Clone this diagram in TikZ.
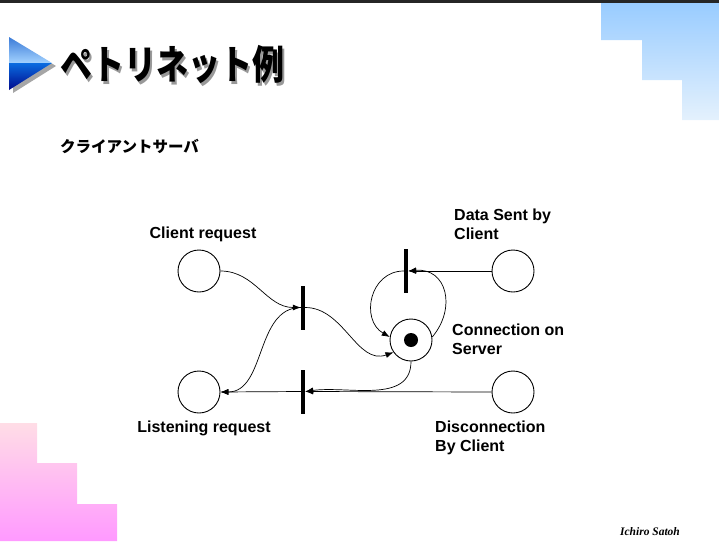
\documentclass[tikz,border=0pt]{standalone}
\usepackage{fontspec}
\setmainfont{Liberation Sans}
\newfontfamily\jpfont{Noto Sans CJK JP}
\newfontfamily\sigfont{Liberation Serif}
\usetikzlibrary{arrows.meta,calc}

\definecolor{stairblue}{HTML}{99CCFF}
\definecolor{stairpale}{HTML}{E4F1FD}
\definecolor{stairpink}{HTML}{FFDDE6}
\definecolor{stairmagenta}{HTML}{FF99FF}
\definecolor{tritop}{HTML}{3B7BD8}
\definecolor{trimid}{HTML}{A3D2FF}
\definecolor{trilow}{HTML}{0A6CE0}
\definecolor{tribottom}{HTML}{00088C}

\newcommand{\shadowtext}[1]{{\color{black!40}\rlap{\hspace{2.5pt}\raisebox{-2.5pt}{#1}}}#1}

\tikzset{
    place/.style={draw,circle,minimum size=42pt,inner sep=0pt,line width=0.9pt},
    trans/.style={fill=black,minimum width=4pt,minimum height=44pt,inner sep=0pt},
    arc/.style={-{Latex[length=8pt,width=6pt]},line width=0.7pt},
    lbl/.style={font=\bfseries\fontsize{16}{19}\selectfont,align=left,inner sep=0pt}
}

\begin{document}
\begin{tikzpicture}[x=1pt,y=-1pt]
    \useasboundingbox (0,0) rectangle (719,541);

    \fill[black!85] (0,0) rectangle (719,3);
    \shade[top color=stairblue,bottom color=stairpale]
        (601,3) -- (719,3) -- (719,120) -- (682,120) -- (682,80)
        -- (642,80) -- (642,40) -- (601,40) -- cycle;
    \shade[top color=stairpink,bottom color=stairmagenta]
        (0,423) -- (37,423) -- (37,463) -- (77,463) -- (77,504)
        -- (117,504) -- (117,541) -- (0,541) -- cycle;

    \coordinate (tip) at (52,63);
    \fill[black!35] ($(tip)+(4,3)$) -- (13,40) -- (13,93) -- cycle;
    \shade[top color=tritop,bottom color=trimid]
        (9,37) -- (tip) -- (9,63) -- cycle;
    \shade[top color=trilow,bottom color=tribottom]
        (9,63) -- (tip) -- (9,90) -- cycle;

    \node (title) [anchor=west,inner sep=0pt,xscale=0.8,
          font=\jpfont\bfseries\fontsize{40}{40}\selectfont] at (60,66) {\shadowtext{ペトリネット例}};
    \node (subtitle) [anchor=west,inner sep=0pt,
          font=\jpfont\bfseries\fontsize{15.5}{15.5}\selectfont] at (60,146) {クライアントサーバ};

    \foreach \name/\x/\y in {client/199/271, listen/199/392, conn/411/340,
                             data/513/271, disc/513/392} {
        \node[place] (\name) at (\x,\y) {};
    }
    \fill (conn) circle (7);

    \node[trans] (t1) at (303,307.5) {};
    \node[trans] (t2) at (303,391.5) {};
    \node[trans] (t3) at (406,271) {};

    \draw[arc] (client.east) to[out=0,in=180] (t1.west);
    \draw[arc] (t1.west) to[out=180,in=0] (listen.east);
    \draw[arc] (t1.east) to[out=0,in=200] (conn.215);
    \draw[arc] (conn.south) to[out=-90,in=8] (t2.east);
    \draw[arc] (disc.west) -- (t2.east);
    \draw[arc] (t2.west) -- (listen.east);
    \draw[arc] (data.west) -- (t3.east);
    \draw[arc] (t3.west) to[out=180,in=150,looseness=1.3] (conn.172);
    \draw[arc] (conn.8) to[out=50,in=5,looseness=1.4] (t3.east);

    \node (clientlbl) [lbl,anchor=north] at (203,227) {Client request};
    \node (listenlbl) [lbl,anchor=north] at (204,421) {Listening request};
    \node (datalbl) [lbl,anchor=north west] at (454,209) {Data Sent by\\Client};
    \node (connlbl) [lbl,anchor=north west] at (452,324) {Connection on\\Server};
    \node (disclbl) [lbl,anchor=north west] at (435,421) {Disconnection\\By Client};

    \node (author) [font=\sigfont\bfseries\itshape\fontsize{11.5}{11.5}\selectfont]
        at (650,532) {Ichiro Satoh};
\end{tikzpicture}
\end{document}
